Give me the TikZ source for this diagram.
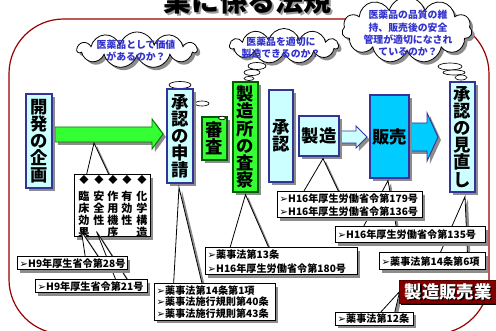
\documentclass[tikz,border=0pt]{standalone}
\usepackage{fontspec}
\setmainfont{Noto Sans CJK JP}
\newfontfamily\dvs{DejaVu Sans}
\usetikzlibrary{shapes.symbols,shapes.geometric,shadows,calc}
\definecolor{lcyan}{RGB}{204,255,255}
\definecolor{bborder}{RGB}{51,51,153}
\definecolor{gfill}{RGB}{51,255,51}
\definecolor{gborder}{RGB}{0,90,0}
\definecolor{cfill}{RGB}{0,204,255}
\definecolor{qblue}{RGB}{51,51,204}
\definecolor{framec}{RGB}{153,0,0}
\definecolor{dred}{RGB}{128,0,0}
\newcommand\pxu{0.75pt}
\newcommand\jsz[2]{\fontsize{#1}{#2}\selectfont\lineskiplimit=-20pt\relax}
\newcommand\bul{{\dvs\mdseries ➢}}
\pgfdeclarelayer{ptrs}
\pgfdeclarelayer{top}
\pgfsetlayers{main,ptrs,top}
\begin{document}
\begin{tikzpicture}[x=0.75pt,y=-0.75pt,
  shad/.style={drop shadow={shadow xshift=2.2pt,shadow yshift=-2.2pt,fill=black!45,opacity=1}},
  vbox/.style={draw=bborder,fill=lcyan,line width=0.9pt,shad,inner sep=0pt,align=center,font=\bfseries\jsz{13}{12.8}},
  gbox/.style={vbox,draw=gborder,fill=gfill},
  callout/.style={draw=black,fill=white,line width=0.75pt,shad,inner xsep=2pt,inner ysep=0pt,align=left,font=\bfseries\jsz{7.6}{8.8}},
  ptr/.style={draw=black,fill=white,line width=0.6pt,shad},
  bubble/.style={ellipse,draw=black,fill=white,line width=0.5pt,inner sep=0pt},
  cloudbox/.style={cloud,cloud puffs=11,cloud ignores aspect,draw=black,fill=white,line width=0.6pt,shad,inner sep=0pt},
  cloudtxt/.style={text=qblue,font=\bfseries\jsz{7.4}{9},align=center},
  colt/.style={anchor=north,align=center,inner sep=0pt,font=\bfseries\jsz{8.3}{9}},
  dia/.style={inner sep=0pt,font=\jsz{7}{7}},
  blockarrow/.style={line width=0.7pt,shad}
]
\useasboundingbox (0,0) rectangle (496,331);
% title
\node[font=\bfseries\jsz{21}{21},text=black!40] (titleshadow) at (249.5,3) {業に係る法規};
\node[font=\bfseries\jsz{21}{21},text=black] (title) at (247.5,1) {業に係る法規};
% frame
\draw[framec,line width=0.9pt,rounded corners=41pt] (9,19) rectangle (489,334);
% clouds
\node[cloudbox,minimum width=119*\pxu,minimum height=36*\pxu] (cloud1) at (137,50) {};
\node[cloudtxt] (q1) at (136,51) {医薬品として価値\\があるのか？};
\node[cloudbox,minimum width=108*\pxu,minimum height=35*\pxu] (cloud2) at (284,46) {};
\node[cloudtxt] (q2) at (281,47.5) {医薬品を適切に\\製造できるのか？};
\node[cloudbox,minimum width=130*\pxu,minimum height=66*\pxu] (cloud3) at (407,30) {};
\node[cloudtxt,font=\bfseries\jsz{7.4}{9.2}] (q3) at (408,33.5) {医薬品の品質の維\\持、販売後の安全\\管理が適切になされ\\ているのか？};
% bubbles
\node[bubble,minimum width=22*\pxu,minimum height=7*\pxu] (bA) at (180,85) {};
\node[bubble,minimum width=14*\pxu,minimum height=5*\pxu] (bB) at (202,103.5) {};
\node[bubble,minimum width=18*\pxu,minimum height=7*\pxu] (bD) at (257,66) {};
\node[bubble,minimum width=16*\pxu,minimum height=6*\pxu] (bE) at (252,72.5) {};
\node[bubble,minimum width=10*\pxu,minimum height=4*\pxu] (bF) at (249,78.5) {};
\node[bubble,minimum width=24*\pxu,minimum height=7*\pxu] (bG) at (450,66.5) {};
\node[bubble,minimum width=22*\pxu,minimum height=5*\pxu] (bH) at (454,72.5) {};
\node[bubble,minimum width=12*\pxu,minimum height=5*\pxu] (bI) at (461,77.5) {};
% block arrows
\filldraw[blockarrow,fill=gfill,draw=gborder!80!green] (55,127) -- (152,127) -- (152,119) -- (163,134) -- (152,149) -- (152,142) -- (55,142) -- cycle;
\filldraw[blockarrow,fill=lcyan,draw=bborder] (339,131) -- (356,131) -- (356,126) -- (367,137) -- (356,148) -- (356,143) -- (339,143) -- cycle;
\filldraw[blockarrow,fill=cfill,draw=bborder] (405,123) -- (427,123) -- (427,113) -- (438,137) -- (427,161) -- (427,151) -- (405,151) -- cycle;
% main boxes
\node[vbox,minimum width=26*\pxu,minimum height=94*\pxu] (kaihatsu) at (39,141) {開\\発\\の\\企\\画};
\node[vbox,minimum width=26*\pxu,minimum height=94*\pxu] (shinsei) at (180,136) {承\\認\\の\\申\\請};
\node[gbox,minimum width=25*\pxu,minimum height=43*\pxu] (shinsa) at (214.5,138.5) {審\\査};
\node[bubble,minimum width=7*\pxu,minimum height=3.6*\pxu] (bC) at (222,118) {};
\node[gbox,minimum width=25*\pxu,minimum height=110*\pxu] (sasatsu) at (245.5,137) {製\\造\\所\\の\\査\\察};
\node[vbox,minimum width=24*\pxu,minimum height=92*\pxu] (shonin) at (281,136) {承\\認};
\node[vbox,minimum width=40*\pxu,minimum height=40*\pxu] (seizo) at (319,136) {製造};
\node[vbox,fill=cfill,minimum width=39*\pxu,minimum height=83*\pxu] (hanbai) at (389.5,136.5) {販売};
\node[vbox,minimum width=25*\pxu,minimum height=110*\pxu] (minaoshi) at (462.5,137) {承\\認\\の\\見\\直\\し};
% callout boxes
\begin{pgfonlayer}{top}
\node[callout,text width=78.5pt,minimum height=13*\pxu] (h28) at (72,263.5) {\bul H9年厚生省令第28号};
\node[callout,text width=80pt,minimum height=13*\pxu] (h21) at (91,286.5) {\bul H9年厚生省令第21号};
\node[callout,text width=86.75pt,minimum height=36*\pxu] (y141) at (214.5,302) {\bul 薬事法第14条第1項\\\bul 薬事法施行規則第40条\\\bul 薬事法施行規則第43条};
\node[callout,text width=110pt,minimum height=27*\pxu,font=\bfseries\jsz{7.6}{10}] (y13) at (281,261.5) {\bul 薬事法第13条\\\bul H16年厚生労働省令第180号};
\node[callout,text width=104.75pt,minimum height=26*\pxu,font=\bfseries\jsz{7.6}{9.5}] (h179) at (349.5,205) {\bul H16年厚生労働省令第179号\\\bul H16年厚生労働省令第136号};
\node[callout,text width=108.5pt,minimum height=16*\pxu] (h135) at (410,235) {\bul H16年厚生労働省令第135号};
\node[callout,text width=75.5pt,minimum height=17*\pxu] (y146) at (432,261.5) {\bul 薬事法第14条第6項};
\node[callout,text width=54.5pt,minimum height=13*\pxu] (y12) at (374,318.5) {\bul 薬事法第12条};
\node[fill=dred,draw=dred!70!black,line width=0.6pt,minimum width=98*\pxu,minimum height=23*\pxu,drop shadow={shadow xshift=1.5pt,shadow yshift=-1.5pt,fill=black,opacity=1}] (gyo) at (448,291.5) {};
\node[font=\bfseries\jsz{13}{13},text=black] (gyos) at (449.5,293) {製造販売業};
\node[font=\bfseries\jsz{13}{13},text=white] (gyot) at (448,291.5) {製造販売業};
\end{pgfonlayer}
% pointers and item box
\begin{pgfonlayer}{ptrs}
\coordinate (gA) at (94,143);
\coordinate (ib1) at (86,177);
\coordinate (ib2) at (110,177);
\filldraw[ptr] (gA) -- (ib1) -- (ib2) -- cycle;
\node[draw=black,fill=white,line width=0.75pt,shad,minimum width=76*\pxu,minimum height=62*\pxu] (items) at (112,206) {};
\node[dia] (d1) at (84,180) {◆};
\node[dia] (d2) at (99,180) {◆};
\node[dia] (d3) at (113,180) {◆};
\node[dia] (d4) at (127,180) {◆};
\node[dia] (d5) at (142,180) {◆};
\node[colt] (c1) at (84,191) {臨\\床\\効\\果};
\node[colt] (c2) at (99,191) {安\\全\\性};
\node[colt] (c3) at (113,191) {作\\用\\機\\序};
\node[colt] (c4) at (127,191) {有\\効\\性};
\node[colt] (c5) at (142,191) {化\\学\\構\\造};
\coordinate (t28) at ($(items.south west)+(8,-6)$);
\coordinate (t21) at ($(items.south west)+(23,-6)$);
\coordinate (t141) at ($(shinsei.south)+(-1,4)$);
\coordinate (t13) at ($(sasatsu.south)+(0,2)$);
\coordinate (t179) at ($(seizo.south)+(4,2)$);
\coordinate (t135) at ($(hanbai.south)+(-1.5,2)$);
\coordinate (t146) at ($(minaoshi.south)+(2.5,4)$);
\coordinate (t12) at ($(gyo.west)+(1,0)$);
\filldraw[ptr] (t21) -- ($(h21.north west)+(82,2)$) -- ($(h21.north west)+(94,2)$) -- cycle;
\filldraw[ptr] (t28) -- ($(h28.north west)+(69,2)$) -- ($(h28.north west)+(83,2)$) -- cycle;
\filldraw[ptr] (t141) -- ($(y141.north west)+(20,2)$) -- ($(y141.north west)+(49,2)$) -- cycle;
\filldraw[ptr] (t13) -- ($(y13.north west)+(25,2)$) -- ($(y13.north west)+(65,2)$) -- cycle;
\filldraw[ptr] (t179) -- ($(h179.north west)+(26,2)$) -- ($(h179.north west)+(63,2)$) -- cycle;
\filldraw[ptr] (t135) -- ($(h135.north west)+(28,2)$) -- ($(h135.north west)+(62,2)$) -- cycle;
\filldraw[ptr] (t146) -- ($(y146.north west)+(61,2)$) -- ($(y146.north west)+(89,2)$) -- cycle;
\filldraw[ptr] (t12) -- ($(y12.north west)+(45,2)$) -- ($(y12.north west)+(60,2)$) -- cycle;
\end{pgfonlayer}
\end{tikzpicture}
\end{document}
